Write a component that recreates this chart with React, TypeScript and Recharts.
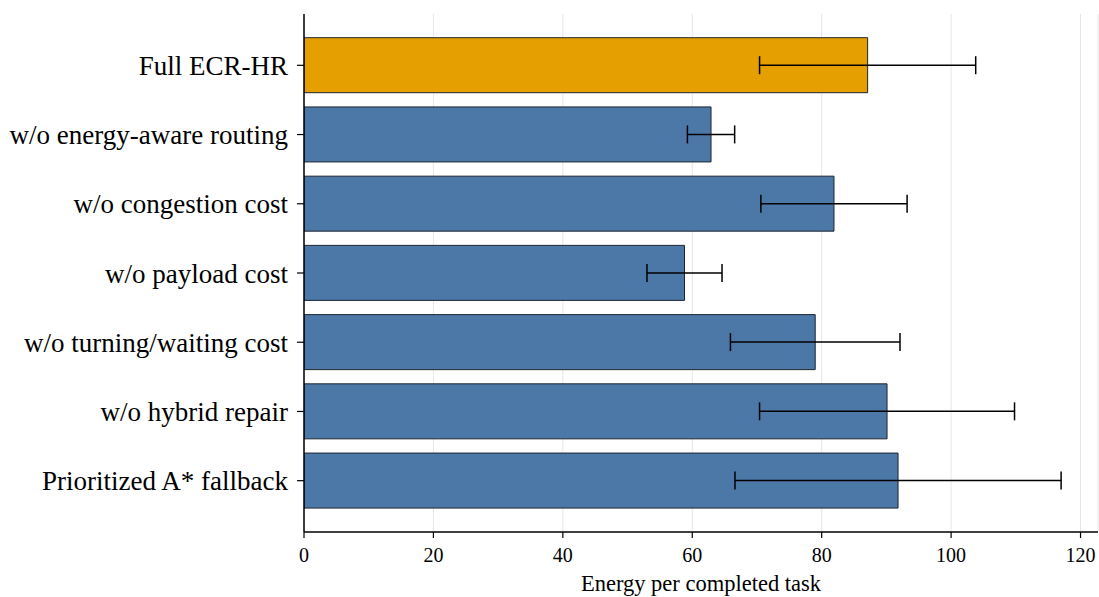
import React from "react";
import { BarChart, Bar, XAxis, YAxis, CartesianGrid, ErrorBar, Cell } from "recharts";

const categories = [
  "Full ECR-HR",
  "w/o energy-aware routing",
  "w/o congestion cost",
  "w/o payload cost",
  "w/o turning/waiting cost",
  "w/o hybrid repair",
  "Prioritized A* fallback",
];
const energyMean = [87.1, 62.9, 81.9, 58.8, 79.0, 90.1, 91.8];
const energyStd = [16.7, 3.65, 11.3, 5.8, 13.1, 19.7, 25.2];
const highlight = [true, false, false, false, false, false, false];
const xTicks = [0, 20, 40, 60, 80, 100, 120];

const ORANGE = "#e5a000";
const BLUE = "#4c78a8";
const FONT = "'Liberation Serif', 'Times New Roman', serif";

const data = categories.map((name, i) => ({
  name,
  value: energyMean[i],
  err: energyStd[i],
  hl: highlight[i],
}));

export default function App() {
  return (
    <div style={{ position: "absolute", left: 0, top: 0, width: 1099, height: 597, background: "#fff" }}>
      <BarChart
        width={1099}
        height={597}
        data={data}
        layout="vertical"
        margin={{ top: 14, right: 1, bottom: 0, left: 0 }}
        barSize={55}
      >
        <CartesianGrid horizontal={false} vertical={true} stroke="#e6e6e6" strokeWidth={1} />
        <XAxis
          type="number"
          domain={[0, 122.7]}
          ticks={xTicks}
          allowDataOverflow
          height={65}
          tickSize={6}
          tickMargin={10}
          axisLine={{ stroke: "#000", strokeWidth: 1.5 }}
          tickLine={{ stroke: "#000", strokeWidth: 1.2 }}
          tick={{ fill: "#000", fontSize: 20, fontFamily: FONT }}
          label={{
            value: "Energy per completed task",
            position: "insideBottom",
            offset: 6,
            fill: "#000",
            fontSize: 22.5,
            fontFamily: FONT,
          }}
        />
        <YAxis
          type="category"
          dataKey="name"
          width={304}
          padding={{ top: 16.7, bottom: 16.7 }}
          tickSize={7}
          tickMargin={9}
          interval={0}
          axisLine={{ stroke: "#000", strokeWidth: 1.5 }}
          tickLine={{ stroke: "#000", strokeWidth: 1.2 }}
          tick={{ fill: "#000", fontSize: 27, fontFamily: FONT }}
        />
        <Bar dataKey="value" isAnimationActive={false} stroke="#1e2530" strokeWidth={1}>
          {data.map((d, i) => (
            <Cell key={i} fill={d.hl ? ORANGE : BLUE} />
          ))}
          <ErrorBar dataKey="err" direction="x" width={9} stroke="#000" strokeWidth={1.5} isAnimationActive={false} />
        </Bar>
      </BarChart>
    </div>
  );
}
